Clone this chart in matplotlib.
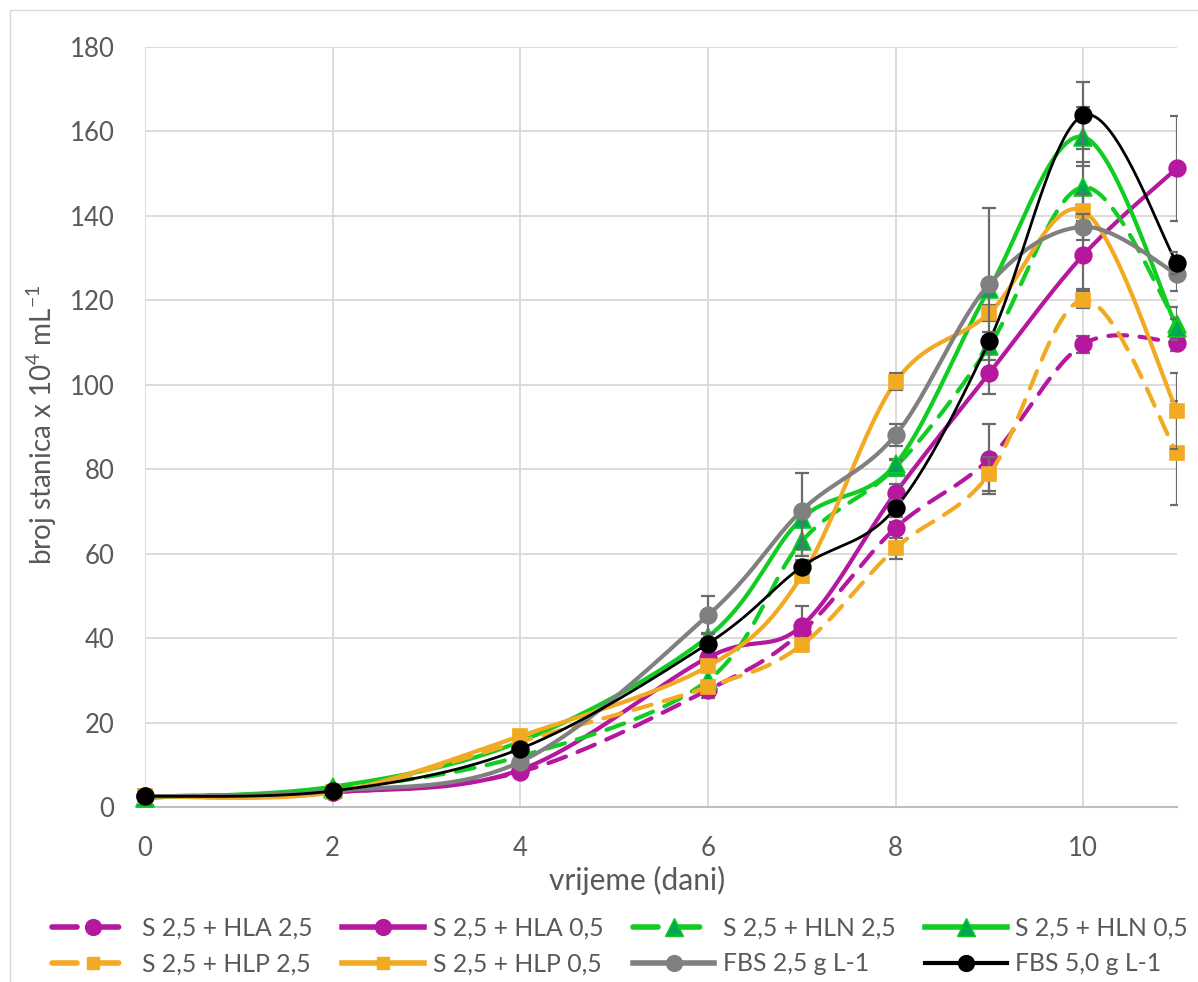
import numpy as np
import matplotlib
matplotlib.use("Agg")
import matplotlib.pyplot as plt
from matplotlib.lines import Line2D
from matplotlib.patches import Rectangle

# ---------------- data ----------------
days = [0, 2, 4, 6, 7, 8, 9, 10, 11]

hla25 = [2.5, 3.5, 8.3, 27.7, 41.5, 66.1, 82.5, 109.6, 110.0]
hla05 = [2.5, 3.5, 8.8, 35.4, 42.9, 74.4, 102.8, 130.7, 151.3]
hln25 = [2.2, 4.3, 12.0, 30.0, 62.9, 80.5, 109.2, 146.8, 114.5]
hln05 = [2.2, 4.8, 15.5, 40.3, 68.3, 81.2, 122.8, 158.7, 113.5]
hlp25 = [2.5, 3.5, 15.5, 28.4, 38.4, 61.3, 78.9, 120.1, 83.8]
hlp05 = [2.5, 3.5, 16.8, 33.3, 54.7, 100.7, 117.0, 141.2, 93.8]
fbs25 = [2.5, 3.8, 10.7, 45.4, 70.2, 88.1, 123.9, 137.4, 126.2]
fbs50 = [2.5, 3.8, 13.8, 38.7, 56.9, 70.8, 110.4, 163.8, 128.8]

hla25_err = [0, 0, 0.5, 2.0, 2.0, 1.5, 8.3, 2.0, 2.0]
hla05_err = [0, 0, 0.5, 1.0, 4.8, 2.0, 5.0, 8.0, 12.4]
hln25_err = [0, 0, 1.0, 2.0, 3.5, 2.0, 2.0, 6.0, 4.0]
hln05_err = [0, 0.5, 1.0, 1.0, 1.0, 1.0, 2.0, 7.0, 2.0]
hlp25_err = [0, 0, 1.0, 1.5, 1.5, 2.5, 4.0, 2.0, 12.3]
hlp05_err = [0, 0, 1.0, 1.0, 1.5, 2.0, 2.0, 4.0, 9.0]
fbs25_err = [0, 0, 1.0, 4.5, 9.0, 2.5, 18.0, 3.0, 4.0]
fbs50_err = [0, 0, 0.5, 1.0, 1.5, 2.0, 2.0, 8.0, 2.6]

labels = ["S 2,5 + HLA 2,5", "S 2,5 + HLA 0,5", "S 2,5 + HLN 2,5", "S 2,5 + HLN 0,5",
          "S 2,5 + HLP 2,5", "S 2,5 + HLP 0,5", "FBS 2,5 g L-1", "FBS 5,0 g L-1"]
xticks = [0, 2, 4, 6, 8, 10]
yticks = [0, 20, 40, 60, 80, 100, 120, 140, 160, 180]

# ---------------- style ----------------
MAG = "#B5179E"
GRN = "#11CC22"
GRN_F = "#00A84F"
ORA = "#F2AA22"
GRY = "#808080"
BLK = "#000000"
TXT = "#595959"

plt.rcParams["font.family"] = ["Lato", "DejaVu Sans"]
plt.rcParams["mathtext.fontset"] = "custom"
plt.rcParams["mathtext.rm"] = "Lato"
plt.rcParams["mathtext.it"] = "Lato"

W, H = 1198, 982
fig = plt.figure(figsize=(W / 100, H / 100), dpi=100)
L, R, T, B = 145, 1177, 47, 807
ax = fig.add_axes([L / W, 1 - B / H, (R - L) / W, (B - T) / H])

sx = (R - L) / 11.0
sy = (B - T) / 180.0


def smooth(xs, ys, n=40):
    """Excel-like smoothed line (Catmull-Rom Bezier in screen-scaled space)."""
    P = np.column_stack([np.asarray(xs, float) * sx, np.asarray(ys, float) * sy])
    Pe = np.vstack([P[0], P, P[-1]])
    out = []
    t = np.linspace(0, 1, n)[:, None]
    for i in range(len(P) - 1):
        p0, p1, p2, p3 = Pe[i], Pe[i + 1], Pe[i + 2], Pe[i + 3]
        b1 = p1 + (p2 - p0) / 6.0
        b2 = p2 - (p3 - p1) / 6.0
        seg = ((1 - t) ** 3) * p1 + 3 * ((1 - t) ** 2) * t * b1 + 3 * (1 - t) * t ** 2 * b2 + t ** 3 * p2
        out.append(seg if i == 0 else seg[1:])
    S = np.vstack(out)
    return S[:, 0] / sx, S[:, 1] / sy


series = [
    (hla25, hla25_err, MAG, MAG, MAG, "o", 12, (0, (4.5, 3.0)), 3.0),
    (hla05, hla05_err, MAG, MAG, MAG, "o", 12, "-", 3.0),
    (hln25, hln25_err, GRN, GRN_F, GRN, "^", 13, (0, (4.5, 3.0)), 3.0),
    (hln05, hln05_err, GRN, GRN_F, GRN, "^", 13, "-", 3.0),
    (hlp25, hlp25_err, ORA, ORA, ORA, "s", 9.5, (0, (4.5, 3.0)), 3.0),
    (hlp05, hlp05_err, ORA, ORA, ORA, "s", 9.5, "-", 3.0),
    (fbs25, fbs25_err, GRY, GRY, GRY, "o", 12, "-", 3.0),
    (fbs50, fbs50_err, BLK, BLK, BLK, "o", 12, "-", 2.0),
]

handles = []
for k, (ys, err, lc, mfc, mec, mk, ms, ls, lw) in enumerate(series):
    z = 3 + k * 0.1
    xs_s, ys_s = smooth(days, ys)
    ax.plot(xs_s, ys_s, color=lc, lw=lw, ls=ls, zorder=z, solid_capstyle="round",
            dash_capstyle="round")
    ax.errorbar(days, ys, yerr=err, fmt="none", ecolor="#6b6b6b", elinewidth=1.6,
                capsize=5, capthick=1.6, zorder=z + 0.01)
    ax.plot(days, ys, ls="none", marker=mk, ms=ms, mfc=mfc, mec=mec, mew=1.2,
            zorder=z + 0.02, clip_on=False)
    handles.append(Line2D([], [], color=lc, lw=lw + 1.0, ls=ls, marker=mk, ms=ms * 0.95,
                          mfc=mfc, mec=mec, dash_capstyle="round"))

ax.set_xlim(0, 11)
ax.set_ylim(0, 180)
ax.set_xticks(xticks)
ax.set_yticks(yticks)
ax.grid(True, color="#d9d9d9", lw=1.3, zorder=0)
ax.set_axisbelow(True)
for s in ["top", "right", "left"]:
    ax.spines[s].set_visible(False)
ax.spines["bottom"].set_color("#bfbfbf")
ax.spines["bottom"].set_linewidth(1.5)
ax.tick_params(axis="both", length=0, labelsize=18.5, colors=TXT)
ax.tick_params(axis="y", pad=22)
ax.tick_params(axis="x", pad=21)

fig.text(637 / W, 1 - 880 / H, "vrijeme (dani)", ha="center", va="center",
         fontsize=21.5, color=TXT)
fig.text(42 / W, 1 - 425 / H, "broj stanica x 10$^{4}$ mL$^{-1}$", ha="center",
         va="center", rotation=90, fontsize=20, color=TXT)

order = [0, 4, 1, 5, 2, 6, 3, 7]
leg = fig.legend([handles[i] for i in order], [labels[i] for i in order],
                 ncol=4, loc="center", bbox_to_anchor=(620 / W, 1 - 946 / H),
                 frameon=False, fontsize=17.8, handlelength=3.3, handletextpad=0.35,
                 columnspacing=1.2, labelspacing=0.5, labelcolor=TXT)

fig.patches.append(Rectangle((10 / W, -0.01), 1.02, 1 - 10 / H + 0.01,
                             transform=fig.transFigure, fill=False,
                             edgecolor="#d9d9d9", lw=1.0))

fig.savefig("out.png", dpi=100)
